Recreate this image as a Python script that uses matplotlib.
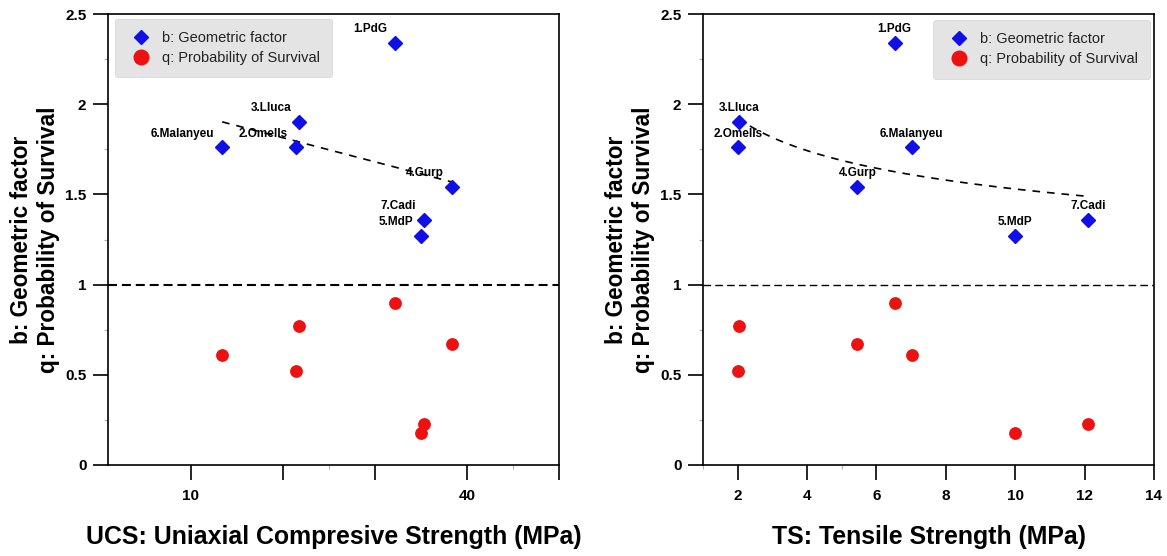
import matplotlib
matplotlib.use("Agg")
import matplotlib.pyplot as plt
from matplotlib.lines import Line2D
import numpy as np

plt.rcParams["font.family"] = ["Liberation Sans", "DejaVu Sans"]
plt.rcParams["lines.scale_dashes"] = False

# --- data ---
SITES = ["1.PdG", "2.Omells", "3.Lluca", "4.Gurp", "5.MdP", "6.Malanyeu", "7.Cadi"]
UCS = [32.2, 21.4, 21.8, 38.4, 35.0, 13.4, 35.3]      # MPa
TS = [6.52, 2.0, 2.05, 5.45, 10.0, 7.02, 12.1]        # MPa
B_FACTOR = [2.34, 1.76, 1.90, 1.54, 1.27, 1.76, 1.36]
Q_SURV = [0.90, 0.52, 0.77, 0.67, 0.18, 0.61, 0.23]

Y_TICKS = [0, 0.5, 1, 1.5, 2, 2.5]
Y_MINOR = [0.25, 0.75, 1.25, 1.75, 2.25]
UCS_TICKS = [10, 20, 30, 40, 50]
UCS_TICKLABELS = ["10", "", "", "40", ""]
UCS_MINOR = [25, 45]
TS_TICKS = [2, 4, 6, 8, 10, 12, 14]
TS_MINOR = [1, 5]

LEGEND_LABELS = ["b: Geometric factor", "q: Probability of Survival"]
YLABEL = "b: Geometric factor\nq: Probability of Survival"

BLUE = "#1010e6"
RED = "#ee1111"

W, H = 1167, 556
fig = plt.figure(figsize=(W / 100, H / 100), dpi=100)
fig.patch.set_facecolor("white")

ax_l = fig.add_axes([108 / W, (H - 465) / H, 451 / W, 451 / H])
ax_r = fig.add_axes([703 / W, (H - 465) / H, 451 / W, 451 / H])


def style_axes(ax, xlim, xticks, xticklabels, xminor, xlabel, ref_lw, ref_dash):
    ax.set_xlim(*xlim)
    ax.set_ylim(0, 2.5)
    ax.set_xticks(xticks)
    ax.set_xticklabels(xticklabels)
    ax.set_xticks(xminor, minor=True)
    ax.set_yticks(Y_TICKS)
    ax.set_yticklabels([f"{v:g}" for v in Y_TICKS])
    ax.set_yticks(Y_MINOR, minor=True)
    for sp in ax.spines.values():
        sp.set_linewidth(1.2)
        sp.set_color("black")
    ax.tick_params(which="major", direction="out", length=10.5, width=1.2,
                   labelsize=11, color="black")
    ax.tick_params(axis="x", which="major", pad=7)
    ax.tick_params(axis="y", which="major", pad=5)
    ax.tick_params(which="minor", direction="out", length=3, width=0.8,
                   color="#b0b0b0")
    plt.setp(ax.get_xticklabels() + ax.get_yticklabels(), fontweight="bold")

    # b = q = 1 reference line
    ax.axhline(1.0, color="black", lw=ref_lw, dashes=ref_dash, zorder=1)

    ax.text(-0.162, 0.5, YLABEL, transform=ax.transAxes, rotation=90,
            ha="center", va="center", multialignment="center",
            fontsize=16.3, fontweight="bold")
    ax.text(0.5, -0.16, xlabel, transform=ax.transAxes, ha="center",
            va="center", fontsize=17.9, fontweight="bold")


def plot_points(ax, x):
    ax.plot(x, B_FACTOR, ls="none", marker="D", ms=6.8, color=BLUE,
            mec=BLUE, zorder=3)
    ax.plot(x, Q_SURV, ls="none", marker="o", ms=8.2, color=RED,
            mec=RED, zorder=3)


def add_legend(ax, loc, anchor):
    handles = [
        Line2D([], [], ls="none", marker="D", ms=7, color=BLUE),
        Line2D([], [], ls="none", marker="o", ms=10.5, color=RED),
    ]
    leg = ax.legend(handles, LEGEND_LABELS, loc=loc, bbox_to_anchor=anchor,
                    borderaxespad=0, frameon=True, fancybox=True,
                    facecolor="#e4e4e4", edgecolor="#d8d8d8", framealpha=1,
                    fontsize=10.5, borderpad=0.85, handlelength=1.9,
                    handletextpad=0.45, labelspacing=0.42)
    leg.get_frame().set_linewidth(0.6)
    for t in leg.get_texts():
        t.set_color("#222222")


# ---- left panel: UCS ----
style_axes(ax_l, (1, 50), UCS_TICKS, UCS_TICKLABELS, UCS_MINOR,
           "UCS: Uniaxial Compresive Strength (MPa)", 1.5, (6.5, 3.5))
plot_points(ax_l, UCS)
slope, icpt = np.polyfit(UCS, B_FACTOR, 1)
xf = np.linspace(min(UCS), max(UCS), 50)
ax_l.plot(xf, slope * xf + icpt, color="black", lw=1.2, dashes=(5.5, 5),
          zorder=2)
for name, xv, yv in zip(SITES, UCS, B_FACTOR):
    ax_l.annotate(name, (xv, yv), xytext=(-5.8, 10), textcoords="offset points",
                  ha="right", va="center", fontsize=8.5, fontweight="bold")
add_legend(ax_l, "upper left", (0.0155, 0.99))

# ---- right panel: TS ----
style_axes(ax_r, (1, 14), TS_TICKS, [str(v) for v in TS_TICKS], TS_MINOR,
           "TS: Tensile Strength (MPa)", 1.0, (5.5, 3))
plot_points(ax_r, TS)
pn, pa = np.polyfit(np.log(TS), np.log(B_FACTOR), 1)
xf = np.linspace(min(TS), max(TS), 80)
ax_r.plot(xf, np.exp(pa) * xf ** pn, color="black", lw=1.2, dashes=(5.5, 5),
          zorder=2)
for name, xv, yv in zip(SITES, TS, B_FACTOR):
    ax_r.annotate(name, (xv, yv), xytext=(0, 10), textcoords="offset points",
                  ha="center", va="center", fontsize=8.5, fontweight="bold")
add_legend(ax_r, "upper right", (0.991, 0.987))

fig.savefig("out.png", dpi=100, facecolor="white")
